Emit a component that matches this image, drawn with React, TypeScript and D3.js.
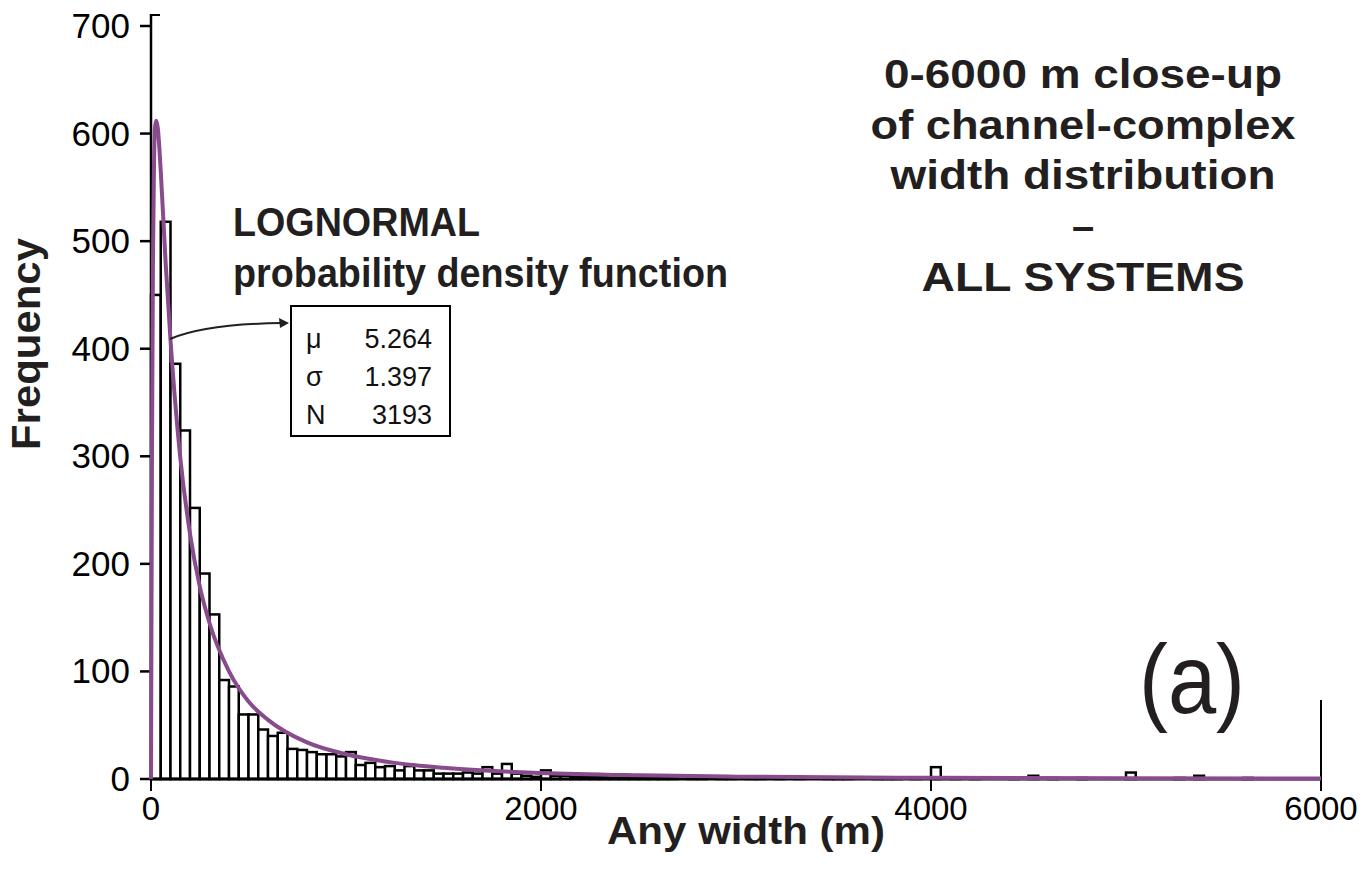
import React from "react";
import * as d3 from "d3";

// Histogram: 50 m bins from 0 to 6000 m (frequency per bin)
const binWidth = 50;
const counts: number[] = [
  450, 518, 386, 324, 252, 191, 153, 92, 86, 60,
  60, 46, 40, 43, 28, 27, 25, 23, 23, 21,
  25, 13, 15, 11, 12, 8, 12, 8, 8, 5,
  5, 5, 6, 5, 11, 5, 14, 5, 3, 2,
  8, 3, 3, 2, 2, 2, 2, 2, 2, 1,
  2, 1, 2, 1, 0, 1, 1, 0, 1, 1,
  0, 1, 1, 0, 1, 0, 1, 0, 0, 1,
  1, 1, 0, 0, 1, 1, 1, 0, 1, 0,
  11, 0, 1, 0, 1, 0, 0, 0, 1, 0,
  3, 0, 1, 0, 0, 1, 0, 0, 0, 0,
  6, 0, 0, 0, 0, 1, 0, 3, 0, 0,
  0, 0, 1, 0, 0, 0, 0, 0, 0, 0,
];

// Lognormal PDF curve (width m, frequency)
const curveX: number[] = [0, 5, 10, 15, 20, 27, 35, 50, 75, 100, 150, 200, 250, 300, 400, 500, 600, 800, 1000, 1250, 1500, 2000, 2500, 3000, 4000, 5000, 6000];
const curveY: number[] = [0, 300, 480, 565, 605, 612, 605, 565, 480, 408, 299, 228, 179, 145, 100, 72, 55, 34, 23, 15, 10.4, 5.6, 3.4, 2.2, 1.1, 0.6, 0.4];

const xTicks: number[] = [0, 2000, 4000, 6000];
const yTicks: number[] = [0, 100, 200, 300, 400, 500, 600, 700];

const statLabels: string[] = ["μ", "σ", "N"];
const statValues: string[] = ["5.264", "1.397", "3193"];

const titleLines: string[] = ["0-6000 m close-up", "of channel-complex", "width distribution", "–", "ALL SYSTEMS"];
const titleLengths: (number | null)[] = [398, 425, 385, null, 323];

const FONT = "'Liberation Sans', Arial, Helvetica, sans-serif";
const PURPLE = "#884C8C";

export default function App() {
  const x = d3.scaleLinear().domain([0, 6000]).range([151, 1321]);
  const y = d3.scaleLinear().domain([0, 700]).range([779, 26]);

  const pts: [number, number][] = curveX.map((v, i) => [v, curveY[i]]);
  const line = d3
    .line<[number, number]>()
    .x((d) => x(d[0]))
    .y((d) => y(d[1]))
    .curve(d3.curveMonotoneX);

  const bw = x(binWidth) - x(0);

  return (
    <svg
      width={1363}
      height={881}
      style={{ position: "absolute", left: 0, top: 0, background: "#fff" }}
      fontFamily={FONT}
    >
      <rect x={0} y={0} width={1363} height={881} fill="#fff" />

      {/* bars */}
      {counts.map((c, i) =>
        c > 0 ? (
          <rect
            key={i}
            x={x(i * binWidth)}
            y={y(c)}
            width={bw}
            height={y(0) - y(c)}
            fill="#fff"
            stroke="#000"
            strokeWidth={2.5}
          />
        ) : null
      )}

      {/* axes */}
      <line x1={151} x2={151} y1={14} y2={780} stroke="#000" strokeWidth={2.5} />
      <line x1={151} x2={160} y1={15} y2={15} stroke="#000" strokeWidth={2} />
      <line x1={150} x2={1322} y1={779} y2={779} stroke="#000" strokeWidth={3} />
      {yTicks.map((t) => (
        <g key={"y" + t}>
          <line x1={140} x2={151} y1={y(t)} y2={y(t)} stroke="#000" strokeWidth={2.5} />
          <text x={130} y={y(t) + 12} textAnchor="end" fontSize={35} fill="#000">
            {t}
          </text>
        </g>
      ))}
      {xTicks.map((t) => (
        <g key={"x" + t}>
          <line
            x1={x(t)}
            x2={x(t)}
            y1={t === 6000 ? 700 : 779}
            y2={791}
            stroke="#000"
            strokeWidth={2}
          />
          <text x={x(t)} y={820} textAnchor="middle" fontSize={33} fill="#000">
            {t}
          </text>
        </g>
      ))}

      {/* lognormal curve */}
      <path d={line(pts) || ""} fill="none" stroke={PURPLE} strokeWidth={4} strokeLinejoin="round" />

      {/* axis titles */}
      <text
        transform="translate(40,344) rotate(-90)"
        textAnchor="middle"
        fontSize={40}
        fontWeight="bold"
        fill="#231f20"
        textLength={212}
        lengthAdjust="spacingAndGlyphs"
      >
        Frequency
      </text>
      <text
        x={746}
        y={844}
        textAnchor="middle"
        fontSize={39}
        fontWeight="bold"
        fill="#231f20"
        textLength={278}
        lengthAdjust="spacingAndGlyphs"
      >
        Any width (m)
      </text>

      {/* annotation */}
      <text x={233} y={236} fontSize={40} fontWeight="bold" fill="#231f20" textLength={247} lengthAdjust="spacingAndGlyphs">
        LOGNORMAL
      </text>
      <text x={233} y={287} fontSize={40} fontWeight="bold" fill="#231f20" textLength={495} lengthAdjust="spacingAndGlyphs">
        probability density function
      </text>

      {/* arrow */}
      <path d="M170,339 Q205,324 282,323" fill="none" stroke="#231f20" strokeWidth={2} />
      <path d="M289,323 L279,318 L280,328 Z" fill="#231f20" />

      {/* stats box */}
      <rect x={291} y={306} width={159} height={130} fill="#fff" stroke="#000" strokeWidth={2} />
      {statLabels.map((s, i) => (
        <g key={s}>
          <text x={306} y={348 + i * 38} fontSize={27} fill="#111">
            {s}
          </text>
          <text x={432} y={348 + i * 38} fontSize={27} textAnchor="end" fill="#111">
            {statValues[i]}
          </text>
        </g>
      ))}

      {/* title */}
      {titleLines.map((t, i) => (
        <text
          key={i}
          x={1083}
          y={88 + i * 50.7}
          textAnchor="middle"
          fontSize={40}
          fontWeight="bold"
          fill="#231f20"
          {...(titleLengths[i] ? { textLength: titleLengths[i] as number, lengthAdjust: "spacingAndGlyphs" } : {})}
        >
          {t}
        </text>
      ))}

      {/* panel label */}
      <text x={1192} y={713} textAnchor="middle" fontSize={98} fill="#231f20" textLength={106} lengthAdjust="spacingAndGlyphs">
        (a)
      </text>
    </svg>
  );
}
